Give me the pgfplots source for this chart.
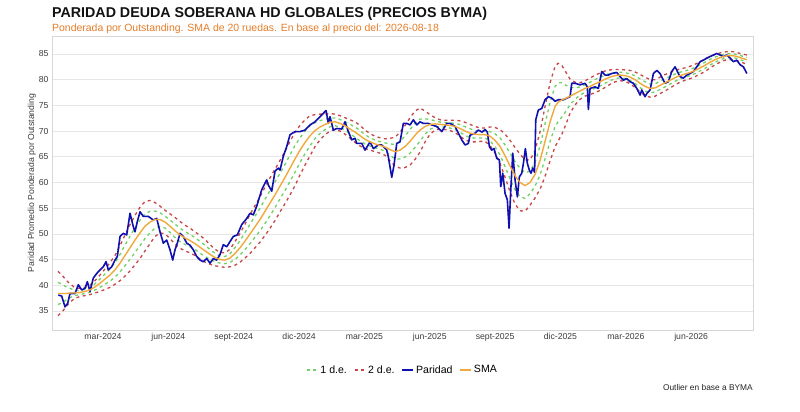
\documentclass[border=0pt]{standalone}
\usepackage{fontspec}
\setmainfont{Liberation Sans}
\usepackage{pgfplots}
\pgfplotsset{compat=1.18}
\usepackage{pgfplotstable}
\definecolor{cblue}{RGB}{16,16,176}
\definecolor{csma}{RGB}{240,170,60}
\definecolor{cgreen}{RGB}{110,210,100}
\definecolor{cred}{RGB}{200,70,70}
\definecolor{csub}{RGB}{230,125,40}
\definecolor{cgrid}{RGB}{230,230,230}
\definecolor{cframe}{RGB}{215,215,215}
\definecolor{ctick}{RGB}{60,60,60}

\pgfplotstableread{
m v
-0.052 38.1
0.104 37.9
0.255 35.8
0.379 36.5
0.485 38.4
0.714 38.4
0.866 40.1
1.022 39.1
1.174 39.4
1.279 40.7
1.403 38.8
1.555 41.4
1.711 42.3
1.862 43.0
2.014 43.6
2.138 44.6
2.243 43.0
2.399 43.6
2.551 44.9
2.657 45.6
2.781 49.5
2.932 50.1
3.088 49.8
3.240 54.0
3.391 51.4
3.469 50.4
3.575 52.4
3.699 54.3
3.850 53.4
4.080 53.4
4.309 52.7
4.466 53.0
4.617 50.4
4.769 48.2
4.925 48.8
5.076 46.9
5.200 44.9
5.306 46.9
5.411 48.2
5.535 50.1
5.687 49.5
5.843 48.2
5.995 47.8
6.146 46.9
6.302 45.6
6.454 44.9
6.605 44.6
6.761 45.2
6.913 44.3
7.064 45.2
7.220 44.9
7.372 46.0
7.523 47.9
7.680 47.5
7.831 48.5
7.983 49.5
8.166 49.8
8.368 51.8
8.598 53.0
8.749 54.0
8.901 53.7
9.057 55.4
9.287 58.6
9.438 59.9
9.516 60.5
9.590 59.5
9.746 58.3
9.897 62.2
10.049 62.8
10.127 62.4
10.278 65.1
10.434 67.0
10.586 69.3
10.815 69.9
11.045 69.9
11.275 70.2
11.504 71.2
11.734 71.8
11.963 72.8
12.239 74.0
12.344 71.5
12.422 72.8
12.574 70.2
12.730 70.5
12.960 70.4
13.111 71.8
13.263 69.9
13.419 68.3
13.570 68.6
13.648 67.6
13.878 67.6
14.029 66.3
14.259 67.9
14.411 66.6
14.640 67.3
14.796 67.3
15.026 66.3
15.099 65.0
15.255 61.0
15.361 63.4
15.485 67.6
15.636 67.9
15.788 71.5
15.944 71.5
16.096 71.2
16.247 72.2
16.403 71.2
16.555 71.8
16.706 71.5
16.936 71.5
17.092 71.2
17.321 70.9
17.551 69.9
17.781 71.5
17.932 71.5
18.162 70.9
18.313 69.6
18.469 68.3
18.621 67.3
18.772 67.6
18.850 69.2
19.080 69.6
19.231 70.2
19.401 69.8
19.539 70.3
19.645 69.8
19.737 67.0
19.847 66.3
19.952 66.6
20.076 64.7
20.196 64.4
20.260 59.2
20.352 61.8
20.457 57.9
20.563 56.6
20.641 51.1
20.719 58.5
20.811 65.7
20.917 60.5
21.022 57.2
21.114 61.1
21.224 61.8
21.298 63.7
21.390 66.6
21.481 63.7
21.573 62.4
21.651 61.8
21.729 62.8
21.812 62.0
21.867 72.2
21.986 74.1
22.143 74.4
22.294 76.1
22.446 76.7
22.602 76.4
22.753 75.8
22.905 76.1
23.134 76.1
23.290 76.4
23.442 76.7
23.520 79.3
23.672 79.3
23.901 79.0
24.131 79.3
24.236 78.6
24.282 74.2
24.360 78.3
24.590 78.6
24.741 78.3
24.897 81.6
25.049 80.9
25.200 80.9
25.356 81.2
25.586 81.4
25.738 80.6
25.889 79.9
26.045 80.2
26.197 79.6
26.348 79.3
26.504 78.3
26.656 77.0
26.734 78.0
26.885 76.7
26.963 77.3
27.115 78.0
27.267 81.2
27.423 81.8
27.574 81.2
27.726 79.9
27.804 79.3
27.955 79.6
28.111 81.6
28.263 82.5
28.414 81.2
28.492 80.6
28.644 80.3
28.800 80.9
28.952 81.2
29.103 81.6
29.259 82.5
29.411 83.5
29.562 83.8
29.718 84.2
29.870 84.5
30.021 84.8
30.177 85.1
30.329 84.8
30.481 84.5
30.637 84.8
30.788 84.2
30.940 83.5
31.096 83.8
31.248 82.9
31.399 82.5
31.556 81.2
}\paridad

\pgfplotstableread{
m s lo2 lo1 hi1 hi2
-0.066 38.4 34.1 36.25 40.55 42.7
0.118 38.4 34.8 36.6 40.2 42.0
0.301 38.4 35.8 37.1 39.7 41.0
0.485 38.5 36.7 37.6 39.4 40.3
0.714 38.5 37.5 38.0 39.0 39.5
0.944 38.6 37.8 38.2 39.0 39.4
1.174 38.8 38.0 38.4 39.2 39.6
1.403 39.1 38.2 38.65 39.55 40.0
1.633 39.7 38.5 39.1 40.3 40.9
1.862 40.4 38.8 39.6 41.2 42.0
2.092 41.2 39.2 40.2 42.2 43.2
2.322 42.0 39.6 40.8 43.2 44.4
2.551 43.0 40.2 41.6 44.4 45.8
2.781 44.3 40.9 42.6 46.0 47.7
3.010 45.8 41.8 43.8 47.8 49.8
3.240 47.3 42.8 45.05 49.55 51.8
3.469 48.8 44.0 46.4 51.2 53.6
3.699 50.2 45.2 47.7 52.7 55.2
3.929 51.5 46.7 49.1 53.9 56.3
4.158 52.3 48.1 50.2 54.4 56.5
4.388 52.8 49.5 51.15 54.45 56.1
4.617 52.8 50.2 51.5 54.1 55.4
4.847 52.3 50.0 51.15 53.45 54.6
5.076 51.5 49.1 50.3 52.7 53.9
5.306 50.6 48.0 49.3 51.9 53.2
5.536 49.8 47.2 48.5 51.1 52.4
5.765 49.2 46.7 47.95 50.45 51.7
5.995 48.7 46.3 47.5 49.9 51.1
6.224 48.1 45.8 46.95 49.25 50.4
6.454 47.4 45.1 46.25 48.55 49.7
6.683 46.7 44.5 45.6 47.8 48.9
6.913 46.0 44.1 45.05 46.95 47.9
7.143 45.4 43.8 44.6 46.2 47.0
7.372 45.0 43.6 44.3 45.7 46.4
7.602 44.9 43.5 44.2 45.6 46.3
7.831 45.3 43.6 44.45 46.15 47.0
8.061 46.2 43.9 45.05 47.35 48.5
8.291 47.3 44.5 45.9 48.7 50.1
8.520 48.6 45.3 46.95 50.25 51.9
8.750 50.0 46.2 48.1 51.9 53.8
8.979 51.4 47.3 49.35 53.45 55.5
9.209 52.8 48.4 50.6 55.0 57.2
9.438 54.4 49.7 52.05 56.75 59.1
9.668 56.0 51.1 53.55 58.45 60.9
9.897 57.6 52.6 55.1 60.1 62.6
10.127 59.3 54.3 56.8 61.8 64.3
10.357 61.0 55.9 58.45 63.55 66.1
10.586 62.8 57.6 60.2 65.4 68.0
10.816 64.6 59.4 62.0 67.2 69.8
11.045 66.3 61.5 63.9 68.7 71.1
11.275 67.8 63.4 65.6 70.0 72.2
11.505 69.1 65.2 67.15 71.05 73.0
11.734 70.1 67.0 68.55 71.65 73.2
11.964 70.8 68.3 69.55 72.05 73.3
12.193 71.3 69.3 70.3 72.3 73.3
12.423 71.7 70.0 70.85 72.55 73.4
12.652 71.8 70.3 71.05 72.55 73.3
12.882 71.5 70.0 70.75 72.25 73.0
13.112 71.0 69.4 70.2 71.8 72.6
13.341 70.4 68.6 69.5 71.3 72.2
13.571 69.8 67.8 68.8 70.8 71.8
13.800 69.1 67.1 68.1 70.1 71.1
14.030 68.4 66.6 67.5 69.3 70.2
14.259 67.9 66.3 67.1 68.7 69.5
14.489 67.5 66.0 66.75 68.25 69.0
14.719 67.2 65.7 66.45 67.95 68.7
14.948 66.9 65.3 66.1 67.7 68.5
15.178 66.4 64.2 65.3 67.5 68.6
15.407 66.0 63.2 64.6 67.4 68.8
15.637 66.3 62.8 64.55 68.05 69.8
15.866 67.0 62.9 64.95 69.05 71.1
16.096 68.0 63.4 65.7 70.3 72.6
16.326 69.2 64.5 66.85 71.55 73.9
16.555 70.2 65.9 68.05 72.35 74.5
16.785 70.9 67.9 69.4 72.4 73.9
17.014 71.3 69.4 70.35 72.25 73.2
17.244 71.4 70.2 70.8 72.0 72.6
17.473 71.3 70.4 70.85 71.75 72.2
17.703 71.2 70.3 70.75 71.65 72.1
17.933 71.1 70.1 70.6 71.6 72.1
18.162 70.9 69.7 70.3 71.5 72.1
18.392 70.5 69.0 69.75 71.25 72.0
18.621 70.0 68.3 69.15 70.85 71.7
18.851 69.6 67.9 68.75 70.45 71.3
19.080 69.4 67.9 68.65 70.15 70.9
19.310 69.3 68.0 68.65 69.95 70.6
19.540 69.3 68.0 68.65 69.95 70.6
19.769 69.0 67.2 68.1 69.9 70.8
19.999 68.2 65.7 66.95 69.45 70.7
20.228 67.0 63.7 65.35 68.65 70.3
20.458 65.2 61.0 63.1 67.3 69.4
20.687 63.2 58.2 60.7 65.7 68.2
20.917 61.3 55.8 58.55 64.05 66.8
21.147 60.0 54.5 57.25 62.75 65.5
21.376 59.4 54.4 56.9 61.9 64.4
21.606 60.0 55.6 57.8 62.2 64.4
21.835 61.6 57.0 59.3 63.9 66.2
22.065 64.3 58.7 61.5 67.1 69.9
22.294 68.0 61.2 64.6 71.4 74.8
22.524 71.8 64.2 68.0 75.6 79.4
22.754 74.8 67.0 70.9 78.7 82.6
22.891 75.6 68.0 71.8 79.4 83.2
23.075 76.1 69.5 72.8 79.4 82.7
23.259 76.4 71.4 73.9 78.9 81.4
23.442 76.8 73.5 75.15 78.45 80.1
23.672 77.3 75.1 76.2 78.4 79.5
23.901 77.8 76.2 77.0 78.6 79.4
24.131 78.3 76.8 77.55 79.05 79.8
24.361 78.7 77.1 77.9 79.5 80.3
24.590 79.2 77.5 78.35 80.05 80.9
24.820 79.6 77.9 78.75 80.45 81.3
25.049 80.1 78.5 79.3 80.9 81.7
25.279 80.5 79.1 79.8 81.2 81.9
25.508 80.8 79.6 80.2 81.4 82.0
25.738 80.9 79.8 80.35 81.45 82.0
25.968 80.8 79.7 80.25 81.35 81.9
26.197 80.5 79.2 79.85 81.15 81.8
26.427 80.0 78.5 79.25 80.75 81.5
26.656 79.3 77.6 78.45 80.15 81.0
26.886 78.7 76.9 77.8 79.6 80.5
27.115 78.3 76.6 77.45 79.15 80.0
27.345 78.4 76.8 77.6 79.2 80.0
27.575 78.9 77.3 78.1 79.7 80.5
27.804 79.4 77.8 78.6 80.2 81.0
28.034 79.9 78.4 79.15 80.65 81.4
28.263 80.4 79.0 79.7 81.1 81.8
28.493 80.8 79.5 80.15 81.45 82.1
28.722 81.1 79.9 80.5 81.7 82.3
28.952 81.4 80.2 80.8 82.0 82.6
29.182 81.8 80.6 81.2 82.4 83.0
29.411 82.3 81.1 81.7 82.9 83.5
29.641 82.8 81.6 82.2 83.4 84.0
29.870 83.4 82.3 82.85 83.95 84.5
30.100 83.9 82.9 83.4 84.4 84.9
30.329 84.3 83.4 83.85 84.75 85.2
30.559 84.6 83.8 84.2 85.0 85.4
30.789 84.7 83.9 84.3 85.1 85.5
31.018 84.6 83.8 84.2 85.0 85.4
31.248 84.3 83.5 83.9 84.7 85.1
31.556 83.9 83.0 83.45 84.35 84.8
}\bands

\begin{document}
\begin{tikzpicture}
\path[use as bounding box, fill=white] (0,0) rectangle (800bp,412bp);
\begin{axis}[
  at={(52bp,82bp)}, anchor=south west,
  scale only axis, width=701bp, height=294bp,
  xmin=-0.342, xmax=31.84, ymin=31.3, ymax=88.5,
  axis line style={draw=cframe, line width=0.8bp},
  ymajorgrids, grid style={draw=cgrid, line width=0.7bp},
  xtick={2,5,8,11,14,17,20,23,26,29},
  xticklabels={mar-2024,jun-2024,sept-2024,dic-2024,mar-2025,jun-2025,sept-2025,dic-2025,mar-2026,jun-2026},
  ytick={35,40,45,50,55,60,65,70,75,80,85},
  major tick length=0pt,
  /pgf/number format/assume math mode=true,
  tick label style={font=\fontsize{8.7}{10}\selectfont, text=ctick},
  legend style={at={(0.5,-0.136)}, anchor=center, draw=none, fill=none,
    legend columns=-1, font=\fontsize{10.6}{12}\selectfont,
    /tikz/every even column/.append style={column sep=5bp},
    inner sep=0pt},
  legend image code/.code={\draw[#1] (0bp,0bp) -- (11bp,0bp);},
  every axis plot/.append style={line join=round},
]
\addlegendimage{cgreen, line width=1.3bp, dash pattern=on 3bp off 3.5bp}
\addlegendentry{1 d.e.}
\addlegendimage{cred, line width=1.3bp, dash pattern=on 3bp off 3.5bp}
\addlegendentry{2 d.e.}
\addlegendimage{cblue, line width=1.6bp}
\addlegendentry{Paridad}
\addlegendimage{csma, line width=1.4bp}
\addlegendentry{SMA}

\addplot[forget plot, cred, line width=1.3bp, dash pattern=on 3bp off 3.5bp] table[x=m, y=lo2] {\bands};
\addplot[forget plot, cred, line width=1.3bp, dash pattern=on 3bp off 3.5bp] table[x=m, y=hi2] {\bands};
\addplot[forget plot, cgreen, line width=1.3bp, dash pattern=on 3bp off 3.5bp] table[x=m, y=lo1] {\bands};
\addplot[forget plot, cgreen, line width=1.3bp, dash pattern=on 3bp off 3.5bp] table[x=m, y=hi1] {\bands};
\addplot[forget plot, cblue, line width=1.6bp] table[x=m, y=v] {\paridad};
\addplot[forget plot, csma, line width=1.4bp] table[x=m, y=s] {\bands};
\end{axis}
\node[anchor=base west, inner sep=0pt, font=\bfseries\fontsize{14.3}{16}\selectfont, text=black!93] at (52bp,394bp) {PARIDAD DEUDA SOBERANA HD GLOBALES (PRECIOS BYMA)};
\node[anchor=base west, inner sep=0pt, font=\fontsize{10.5}{12}\selectfont, text=csub] at (52bp,380.5bp) {Ponderada por Outstanding. SMA de 20 ruedas. En base al precio del: 2026-08-18};
\node[rotate=90, inner sep=0pt, font=\fontsize{8.7}{10}\selectfont, text=ctick] at (32bp,229bp) {Paridad Promedio Ponderada por Outstanding};
\node[anchor=east, inner sep=0pt, font=\fontsize{8.4}{10}\selectfont, text=black!85] at (753bp,24bp) {Outlier en base a BYMA};
\end{tikzpicture}
\end{document}
